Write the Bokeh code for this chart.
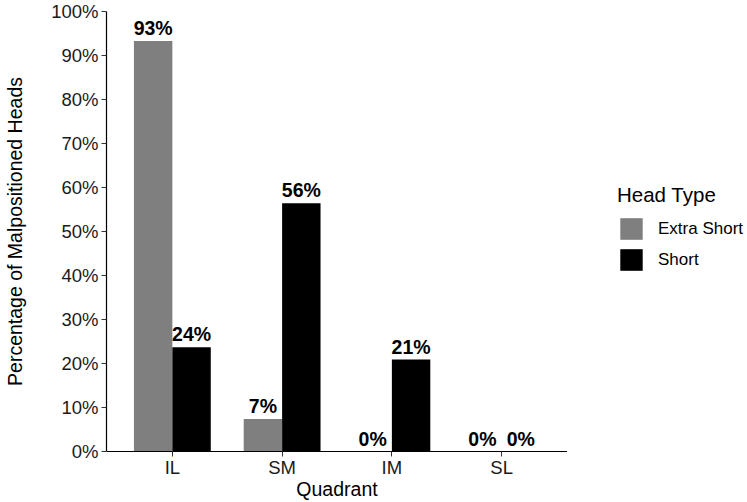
from bokeh.plotting import figure
from bokeh.layouts import row
from bokeh.models import ColumnDataSource, Legend, LegendItem, FixedTicker, Range1d
from bokeh.core.properties import value
from bokeh.embed import file_html
from bokeh.resources import INLINE

quadrants = ["IL", "SM", "IM", "SL"]
extra_short = [93.3, 7.4, 0.0, 0.0]
short = [23.7, 56.4, 20.9, 0.0]
y_ticks = [0, 10, 20, 30, 40, 50, 60, 70, 80, 90, 100]
series_names = ["Extra Short", "Short"]

FONT = "Liberation Sans"
GREY = "#7F7F7F"
COLORS = [GREY, "black"]

H = 502
p = figure(width=567, height=H, output_backend="svg", toolbar_location=None,
           x_range=Range1d(0.4, 4.6), y_range=Range1d(0, 100),
           min_border_left=106, min_border_right=0, min_border_top=11, min_border_bottom=50)
p.outline_line_color = None
p.grid.visible = False

xs = list(range(1, len(quadrants) + 1))
off = 0.175
src_e = ColumnDataSource(dict(x=[v - off for v in xs], top=extra_short,
                              lab=[f"{round(v)}%" for v in extra_short]))
src_s = ColumnDataSource(dict(x=[v + off for v in xs], top=short,
                              lab=[f"{round(v)}%" for v in short]))

p.vbar(x="x", top="top", width=0.35, source=src_e, fill_color=COLORS[0], line_color=None)
p.vbar(x="x", top="top", width=0.35, source=src_s, fill_color=COLORS[1], line_color=None)

for src in (src_e, src_s):
    p.text(x="x", y="top", text="lab", source=src, text_align="center", text_baseline="bottom",
           y_offset=-2, text_font=value(FONT), text_font_style="bold", text_font_size="19.5px",
           text_color="black")

# axes
p.xaxis.ticker = FixedTicker(ticks=xs)
p.xaxis.major_label_overrides = {x: q for x, q in zip(xs, quadrants)}
p.yaxis.ticker = FixedTicker(ticks=y_ticks)
p.yaxis.major_label_overrides = {t: f"{t}%" for t in y_ticks}
p.xaxis.axis_label = "Quadrant"
p.yaxis.axis_label = "Percentage of Malpositioned Heads"
for ax in (p.xaxis, p.yaxis):
    ax.axis_line_color = "black"
    ax.axis_line_width = 1.2
    ax.major_tick_line_color = "#333333"
    ax.major_tick_in = 0
    ax.major_tick_out = 5
    ax.minor_tick_line_color = None
    ax.major_label_text_font = FONT
    ax.major_label_text_font_size = "18.5px"
    ax.major_label_text_color = "#1a1a1a"
    ax.axis_label_text_font = FONT
    ax.axis_label_text_font_size = "19.5px"
    ax.axis_label_text_font_style = "normal"
    ax.axis_label_text_color = "black"
p.xaxis.major_label_standoff = 0
p.xaxis.axis_label_standoff = -3
p.yaxis.major_label_standoff = 3
p.yaxis.axis_label_standoff = 22

# legend panel
lf = figure(width=180, height=H, output_backend="svg", toolbar_location=None,
            x_axis_type=None, y_axis_type=None, x_range=Range1d(0, 1), y_range=Range1d(0, 1),
            min_border_left=0, min_border_right=0, min_border_top=0, min_border_bottom=0)
lf.outline_line_color = None
lf.grid.visible = False
items = []
for name, col in zip(series_names, COLORS):
    r = lf.vbar(x=[-10], top=[0], width=0.1, fill_color=col, line_color=None)
    items.append(LegendItem(label=name, renderers=[r]))

legend = Legend(items=items, location=(50, 178), title="Head Type",
                title_text_font=FONT, title_text_font_size="20.5px", title_text_font_style="normal",
                title_text_color="black", title_standoff=8,
                label_text_font=FONT, label_text_font_size="17px", label_text_color="black",
                glyph_width=28, glyph_height=27, label_standoff=13, spacing=4,
                padding=0, margin=0, border_line_color=None, background_fill_alpha=0)
lf.add_layout(legend)

layout = row(p, lf)
open("out.html", "w").write(file_html(layout, INLINE))
